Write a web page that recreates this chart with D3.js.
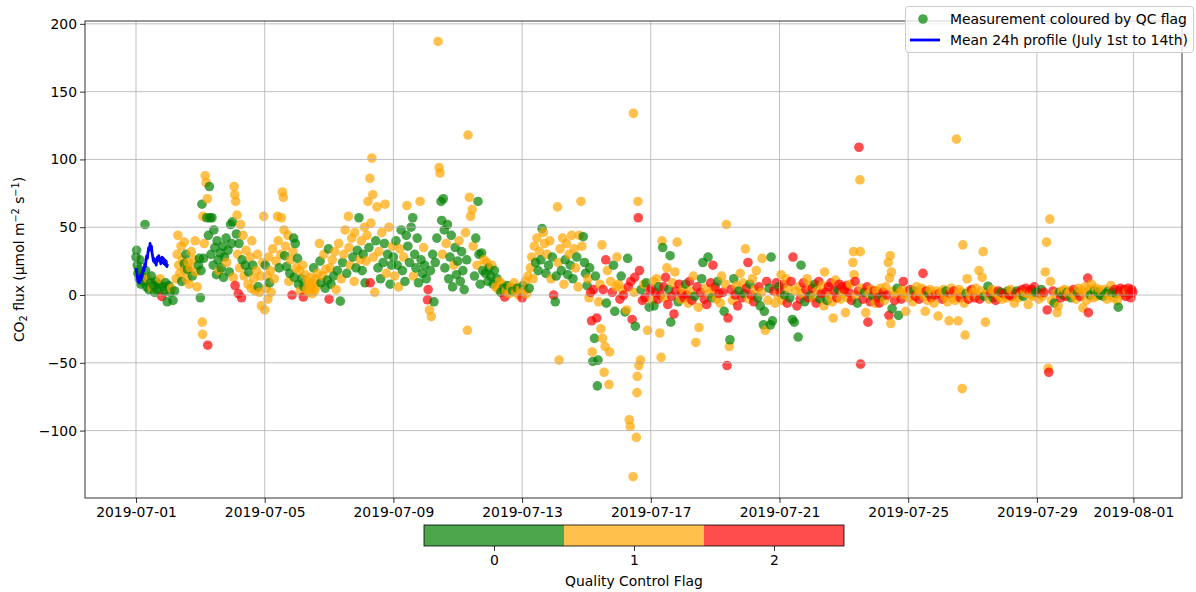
<!DOCTYPE html>
<html>
<head>
<meta charset="utf-8">
<script src="https://cdn.jsdelivr.net/npm/d3@7"></script>
<style>
	body { margin: 0; background: #fff; }
	svg { font-family: "DejaVu Sans", sans-serif; }
</style>
</head>
<body>
<svg id="chart" width="1196" height="592"></svg>
<script>
// [days since 2019-07-01 00:00, CO2 flux, QC flag]
var fluxWeek1 = [
	[0.0,28,0],[0.02,33,0],[0.04,22,0],[0.06,16,0],[0.08,19,0],[0.1,12,0],[0.12,26,0],[0.15,8,0],[0.18,14,0],[0.22,10,0],[0.28,52,0],[0.3,18,0],[0.33,6,0],[0.36,12,1],[0.4,4,0],[0.44,9,0],[0.48,14,0],[0.5,5,1],[0.55,7,0],[0.58,2,0],[0.62,10,0],[0.66,4,0],[0.7,8,0],[0.75,12,1],[0.8,-1,2],[0.84,6,0],[0.88,3,0],[0.92,9,0],[0.97,-5,0],
	[1.02,7,0],[1.06,2,0],[1.1,5,1],[1.15,-4,0],[1.2,3,0],[1.25,12,1],[1.28,30,1],[1.3,44,1],[1.33,22,1],[1.36,16,1],[1.4,36,1],[1.42,10,0],[1.45,26,1],[1.5,39,1],[1.5,23,0],[1.52,18,1],[1.55,30,0],[1.58,12,1],[1.6,19,0],[1.62,24,1],[1.65,8,1],[1.68,20,1],[1.72,32,1],[1.75,14,0],[1.8,26,1],[1.84,40,1],[1.86,17,1],[1.9,6,1],[1.94,22,0],[1.97,27,0],
	[2.0,-2,0],[2.02,18,0],[2.05,67,0],[2.06,-20,1],[2.07,-29,1],[2.08,58,1],[2.1,27,0],[2.12,38,1],[2.15,88,1],[2.18,83,1],[2.2,57,0],[2.22,71,1],[2.23,-37,2],[2.25,44,0],[2.28,80,0],[2.3,57,0],[2.33,30,0],[2.36,57,0],[2.4,22,0],[2.42,48,0],[2.45,35,0],[2.5,15,0],[2.52,40,0],[2.55,26,0],[2.58,18,1],[2.62,31,0],[2.65,20,0],[2.7,36,0],[2.72,13,0],[2.75,28,0],[2.8,42,0],[2.82,24,1],[2.86,33,0],[2.9,17,0],[2.94,52,0],[2.97,38,0],
	[3.0,54,0],[3.02,13,1],[3.05,80,1],[3.07,74,1],[3.08,7,2],[3.1,69,1],[3.12,45,0],[3.14,59,1],[3.16,30,1],[3.18,1,2],[3.2,38,0],[3.22,20,1],[3.25,52,1],[3.28,-2,2],[3.3,26,0],[3.33,44,1],[3.36,14,1],[3.4,22,0],[3.42,33,1],[3.48,8,1],[3.5,17,0],[3.55,28,1],[3.58,5,1],[3.6,40,1],[3.63,22,0],[3.66,12,1],[3.7,3,1],[3.74,18,1],[3.78,30,1],[3.8,6,0],[3.84,2,1],[3.88,14,1],[3.9,-8,1],[3.94,24,1],[3.97,58,1],
	[4.0,-11,1],[4.02,22,0],[4.05,5,1],[4.08,14,1],[4.1,-3,1],[4.12,28,1],[4.15,9,0],[4.18,18,1],[4.2,2,1],[4.25,34,1],[4.3,12,1],[4.35,25,1],[4.4,58,1],[4.42,40,1],[4.45,20,0],[4.5,30,1],[4.52,57,1],[4.55,76,1],[4.58,72,1],[4.6,48,1],[4.62,29,0],[4.65,36,1],[4.68,21,0],[4.72,44,1],[4.75,10,1],[4.78,16,0],[4.8,26,1],[4.85,0,2],[4.88,32,1],[4.9,42,0],[4.92,13,0],[4.95,38,0],[4.98,20,1],
	[5.02,27,0],[5.05,8,0],[5.08,18,1],[5.1,3,1],[5.15,12,0],[5.18,22,1],[5.2,-1.5,2],[5.22,6,0],[5.25,15,1],[5.3,4,1],[5.33,10,1],[5.36,2,1],[5.4,8,1],[5.42,13,1],[5.45,5,1],[5.48,1,1],[5.5,9,1],[5.52,20,0],[5.55,3,1],[5.58,12,1],[5.6,6,1],[5.65,16,1],[5.7,38,1],[5.72,25,0],[5.75,9,0],[5.8,14,1],[5.84,30,1],[5.88,5,0],[5.9,19,1],[5.95,11,0],[5.98,34,0],
	[6.0,-3,2],[6.03,20,1],[6.06,8,0],[6.1,26,1],[6.14,14,0],[6.18,32,1],[6.22,4,1],[6.26,18,0],[6.3,38,1],[6.35,-4.5,0],[6.38,12,1],[6.42,24,0],[6.46,30,1],[6.5,48,1],[6.55,16,0],[6.6,58,1],[6.62,35,1],[6.65,22,1],[6.7,42,1],[6.74,28,0],[6.78,10,1],[6.8,46,1],[6.84,20,0],[6.88,33,0],[6.93,57,0],[6.96,26,1]
];
var fluxWeek2 = [
	[7.0,40,1],[7.03,18,0],[7.06,30,0],[7.1,50,1],[7.12,9,0],[7.15,25,1],[7.18,44,1],[7.21,69,1],[7.24,35,0],[7.27,86,1],[7.28,9,2],[7.3,53,1],[7.33,101,1],[7.36,74,1],[7.38,28,1],[7.42,2,1],[7.45,40,0],[7.49,65,1],[7.52,20,0],[7.55,32,1],[7.6,12,0],[7.64,46,1],[7.68,24,0],[7.72,38,0],[7.74,67,1],[7.78,16,1],[7.82,30,0],[7.86,50,1],[7.9,8,0],[7.94,22,0],[7.97,36,1],
	[8.0,28,0],[8.04,14,1],[8.08,40,0],[8.12,22,0],[8.16,6,1],[8.2,34,1],[8.24,48,0],[8.28,18,0],[8.32,28,1],[8.36,10,0],[8.4,44,0],[8.42,66,1],[8.45,36,0],[8.5,24,0],[8.55,50,0],[8.6,57,0],[8.62,14,1],[8.66,30,0],[8.7,20,0],[8.74,42,0],[8.78,9,0],[8.83,69,1],[8.86,26,0],[8.9,16,0],[8.94,35,1],[8.97,22,0],
	[9.02,12,0],[9.06,-3.5,2],[9.08,4,2],[9.12,-11,1],[9.15,18,0],[9.18,-16,1],[9.22,30,0],[9.26,-5,0],[9.3,24,0],[9.35,42,0],[9.39,187,1],[9.42,94,1],[9.45,90,1],[9.48,69,0],[9.5,55,0],[9.52,30,1],[9.55,71,0],[9.58,48,0],[9.6,20,0],[9.64,38,1],[9.68,52,0],[9.72,12,0],[9.76,28,0],[9.8,44,0],[9.84,6,0],[9.88,22,1],[9.92,35,0],[9.96,15,0],
	[10.0,25,0],[10.04,40,1],[10.08,10,0],[10.12,32,0],[10.16,18,0],[10.2,4,0],[10.24,46,1],[10.28,26,0],[10.3,-26,1],[10.32,118,1],[10.36,72,1],[10.4,58,1],[10.45,63,1],[10.48,36,1],[10.52,14,0],[10.56,42,0],[10.6,22,1],[10.63,69,0],[10.66,30,0],[10.7,8,0],[10.74,31,0],[10.78,18,0],[10.82,26,1],[10.86,16,0],[10.9,24,1],[10.94,10,0],[10.97,20,0],
	[11.02,14,0],[11.06,22,1],[11.1,8,0],[11.14,18,0],[11.18,6,1],[11.22,12,0],[11.26,4,1],[11.3,10,1],[11.34,2,0],[11.38,8,1],[11.42,5,0],[11.46,-1.5,2],[11.5,3,1],[11.55,7,0],[11.6,1,1],[11.65,6,1],[11.7,3,0],[11.75,9,1],[11.8,2,1],[11.85,5,0],[11.9,0,1],[11.95,4,1],
	[12.0,-2,2],[12.03,7,0],[12.06,3,1],[12.1,10,1],[12.14,1,1],[12.18,14,1],[12.22,5,0],[12.26,20,1],[12.3,28,1],[12.34,12,1],[12.38,36,1],[12.42,24,0],[12.46,42,1],[12.5,18,0],[12.54,32,1],[12.58,26,0],[12.62,49,0],[12.66,46,1],[12.7,38,1],[12.74,16,0],[12.78,30,1],[12.82,22,0],[12.86,40,1],[12.9,12,1],[12.94,28,0],[12.98,0,2],
	[13.03,-5,0],[13.06,14,0],[13.1,65,1],[13.12,24,1],[13.15,-48,1],[13.18,34,1],[13.22,18,0],[13.26,42,1],[13.3,8,1],[13.34,26,0],[13.38,38,1],[13.42,15,0],[13.46,30,1],[13.5,22,0],[13.54,44,1],[13.58,12,0],[13.62,34,1],[13.66,20,1],[13.7,28,0],[13.74,6,1],[13.78,44,1],[13.83,69,1],[13.86,36,1],[13.9,43,0],[13.94,24,0],[13.97,16,0]
];
var fluxWeek3 = [
	[14.02,7,0],[14.05,12,1],[14.08,-2,1],[14.1,20,0],[14.13,2,2],[14.16,-19,2],[14.18,-42,1],[14.2,-49,0],[14.22,4,2],[14.25,-32,0],[14.28,14,0],[14.32,-17,2],[14.34,-67,0],[14.36,-48,0],[14.38,-5,1],[14.42,8,1],[14.45,-25,1],[14.48,37,1],[14.5,-32,1],[14.52,4,2],[14.55,-57,1],[14.58,-38,1],[14.6,26,2],[14.62,-6,0],[14.65,18,1],[14.7,-66,1],[14.72,-42,1],[14.75,10,1],[14.8,2,2],[14.84,22,0],[14.88,-12,0],[14.92,6,1],[14.95,28,1],
	[15.0,8,1],[15.04,-3,2],[15.08,14,0],[15.12,4,1],[15.15,0,2],[15.2,-12.5,0],[15.25,-11,1],[15.28,27,0],[15.3,6,2],[15.33,-92,1],[15.36,-97,1],[15.38,10,2],[15.42,-18,2],[15.45,-134,1],[15.46,134,1],[15.48,2,1],[15.5,13,2],[15.52,-23,0],[15.55,-105,1],[15.57,-72,1],[15.58,-60,1],[15.6,69,1],[15.61,57,2],[15.63,-52,1],[15.65,18,2],[15.68,-48,1],[15.7,4,0],[15.74,-4,2],[15.78,8,1],[15.82,-2,2],[15.86,9,0],[15.9,-26,1],[15.95,-9,0],[15.98,3,2],
	[16.02,5,2],[16.05,-4,1],[16.08,10,1],[16.1,-8,0],[16.14,2,2],[16.18,12,1],[16.22,-3,2],[16.25,6,0],[16.28,-28,1],[16.3,0,2],[16.32,-46,1],[16.35,40,1],[16.37,35,0],[16.4,6,2],[16.43,-2,1],[16.46,13,2],[16.5,20,1],[16.53,-7,2],[16.56,4,0],[16.6,29,0],[16.62,-20,0],[16.65,-1,2],[16.68,9,1],[16.72,-14,2],[16.75,17,1],[16.78,3,2],[16.82,39,1],[16.85,-5,0],[16.88,8,2],[16.92,-3,1],[16.96,1,2],
	[17.0,4,1],[17.04,-2,2],[17.08,8,0],[17.12,0,2],[17.16,-6,1],[17.2,10,2],[17.24,3,1],[17.28,-4,2],[17.32,14,1],[17.36,-1,0],[17.4,-35,1],[17.44,6,2],[17.48,-9,1],[17.5,-24,1],[17.54,2,2],[17.58,12,0],[17.62,24,0],[17.66,-3,2],[17.7,5,1],[17.74,-7,2],[17.78,28,0],[17.82,1,1],[17.86,9,2],[17.9,-2,0],[17.93,22,2],[17.96,4,1],
	[18.0,6,2],[18.04,-3,1],[18.08,10,0],[18.12,1,2],[18.16,-6,1],[18.2,14,1],[18.24,2,2],[18.28,-12,0],[18.32,8,1],[18.35,52,1],[18.37,-52,2],[18.4,-17,2],[18.44,-38,1],[18.46,-33,0],[18.5,4,2],[18.54,-4,1],[18.58,12,0],[18.62,0,2],[18.66,7,1],[18.7,-8,2],[18.74,3,0],[18.78,16,1],[18.82,-2,2],[18.86,9,1],[18.9,1,0],[18.94,34,1],[18.97,5,2],
	[19.02,24,2],[19.05,-3,1],[19.08,8,0],[19.12,0,2],[19.16,12,1],[19.2,-5,2],[19.24,4,1],[19.28,18,1],[19.32,-2,0],[19.36,6,2],[19.4,-8,0],[19.44,2,1],[19.46,27,1],[19.5,-22,0],[19.53,-12,0],[19.56,-26,1],[19.6,10,2],[19.64,-4,1],[19.68,5,0],[19.72,-22,0],[19.74,28,0],[19.78,-19,0],[19.82,3,2],[19.86,-6,1],[19.9,9,2],[19.94,0,1],[19.98,6,0],
	[20.02,2,2],[20.05,15,1],[20.08,-4,1],[20.12,8,2],[20.16,0,0],[20.2,12,1],[20.24,-6,2],[20.28,5,1],[20.32,-2,0],[20.36,10,2],[20.4,-18,0],[20.42,28,2],[20.46,-20,0],[20.5,3,1],[20.54,-8,2],[20.58,-31,0],[20.6,6,1],[20.64,-3,2],[20.67,22,0],[20.7,1,1],[20.74,9,2],[20.78,-5,0],[20.82,4,2],[20.86,12,1],[20.9,-2,2],[20.94,7,1],[20.97,0,0]
];
var fluxWeek4 = [
	[21.02,5,2],[21.06,-2,1],[21.1,8,0],[21.14,-6,2],[21.18,3,1],[21.22,10,2],[21.26,-3,0],[21.3,1,2],[21.34,7,1],[21.38,-8,1],[21.4,17,1],[21.44,2,2],[21.48,-4,0],[21.52,6,2],[21.56,-1,1],[21.6,9,2],[21.64,-5,1],[21.67,-17,1],[21.7,3,2],[21.74,11,1],[21.78,-2,2],[21.82,4,0],[21.86,8,2],[21.9,-3,1],[21.94,6,2],[21.97,1,1],
	[22.02,4,2],[22.05,-13,1],[22.08,7,2],[22.12,-2,1],[22.16,2,2],[22.2,8,1],[22.24,-4,2],[22.28,24,1],[22.3,32,1],[22.32,15,1],[22.35,10,2],[22.38,0,1],[22.42,-6,0],[22.45,3,2],[22.47,109,2],[22.5,85,1],[22.51,32,1],[22.52,-51,2],[22.56,5,1],[22.6,-3,2],[22.64,2,0],[22.68,-13,1],[22.72,6,2],[22.75,-20,2],[22.78,1,1],[22.82,-5,2],[22.86,4,1],[22.9,-1,0],[22.94,3,2],[22.97,-6,1],
	[23.02,3,1],[23.06,-2,2],[23.1,-6,2],[23.14,5,1],[23.18,-1,0],[23.22,2,2],[23.26,-4,1],[23.3,6,1],[23.34,0,2],[23.38,24,1],[23.4,-15,2],[23.42,12.5,1],[23.44,29,1],[23.46,-21,1],[23.48,17,1],[23.5,-10,0],[23.54,3,1],[23.58,-4,2],[23.62,1,1],[23.66,5,0],[23.7,-15,0],[23.74,2,1],[23.78,-3,2],[23.82,4,1],[23.85,10,2],[23.88,0,1],[23.93,-12,1],[23.97,3,1],
	[24.02,-2,1],[24.06,4,2],[24.1,1,1],[24.14,-5,1],[24.18,3,0],[24.22,-1,2],[24.26,6,1],[24.3,0,1],[24.34,-3,2],[24.38,2,1],[24.42,5,1],[24.46,16,2],[24.5,-1,1],[24.53,-12,1],[24.56,3,2],[24.6,-4,1],[24.64,1,0],[24.68,4,1],[24.72,-2,2],[24.76,2,1],[24.8,-6,1],[24.84,0,2],[24.88,3,1],[24.93,-15.5,1],[24.97,1,2],
	[25.02,2,1],[25.06,-3,2],[25.1,4,1],[25.14,-1,1],[25.18,3,0],[25.22,-5,1],[25.27,-19,1],[25.3,1,2],[25.34,5,1],[25.38,-2,1],[25.42,3,2],[25.46,-4,1],[25.5,115,1],[25.53,0,1],[25.55,-19,1],[25.58,4,1],[25.62,-2,2],[25.66,2,1],[25.68,-69,1],[25.7,37,1],[25.74,-6,1],[25.77,-29.5,1],[25.8,1,0],[25.83,12,1],[25.87,-3,2],[25.9,3,1],[25.94,-1,1],[25.97,4,2],
	[26.02,2,1],[26.06,-2,2],[26.1,5,1],[26.14,0,1],[26.2,18,1],[26.22,-3,2],[26.26,3,1],[26.3,13,1],[26.33,32,1],[26.36,-1,0],[26.4,-20,1],[26.44,2,1],[26.48,6.5,0],[26.52,-3,1],[26.56,1,2],[26.6,4,1],[26.64,-2,0],[26.68,2,1],[26.72,-4,2],[26.76,1,1],[26.8,3,2],[26.84,-1,1],[26.88,2,0],[26.92,-3,1],[26.96,1,2],
	[27.02,1,2],[27.06,-2,1],[27.1,3,0],[27.14,0,2],[27.18,4,1],[27.22,-1,2],[27.26,2,1],[27.3,-6,1],[27.34,1,2],[27.38,3,0],[27.42,-2,1],[27.46,2,2],[27.5,0,1],[27.54,4,2],[27.58,-1,0],[27.62,2,1],[27.66,5,2],[27.7,1,1],[27.73,-7,1],[27.76,3,2],[27.8,0,1],[27.84,4,2],[27.88,-1,1],[27.92,6,2],[27.96,2,0]
];
var fluxWeek5 = [
	[28.02,2,0],[28.06,-3,1],[28.1,1,2],[28.14,4,0],[28.18,-1,1],[28.22,2,2],[28.26,17,1],[28.3,39,1],[28.32,-11,2],[28.35,-54,1],[28.37,-57,2],[28.4,56,1],[28.42,10,1],[28.46,-4,1],[28.5,3,2],[28.54,-6,0],[28.58,1,1],[28.63,-13,1],[28.66,-8,1],[28.7,2,0],[28.74,-2,2],[28.78,3,1],[28.82,0,0],[28.86,4,1],[28.9,-1,2],[28.94,2,0],[28.97,1,1],
	[29.02,3,1],[29.06,-2,0],[29.1,1,1],[29.14,4,2],[29.18,0,1],[29.22,-3,1],[29.26,2,0],[29.3,5,1],[29.34,-1,2],[29.38,3,1],[29.43,-9.5,1],[29.46,2,1],[29.5,6,1],[29.54,-4,1],[29.58,12.5,2],[29.6,-13,2],[29.63,4,1],[29.66,0,0],[29.7,8,1],[29.74,-2,1],[29.78,3,0],[29.82,5,1],[29.86,-1,1],[29.9,2,0],[29.94,4,1],[29.97,0,0],
	[30.02,2,1],[30.06,-1,0],[30.1,4,1],[30.14,1,0],[30.18,-3,1],[30.22,3,0],[30.26,0,1],[30.3,7,1],[30.34,2,0],[30.38,-2,1],[30.42,4,2],[30.46,1,0],[30.5,-4,1],[30.53,-9,0],[30.56,3,2],[30.6,5,2],[30.64,0,1],[30.68,2,2],[30.72,4,2],[30.76,-1,2],[30.8,3,1],[30.84,5,2],[30.88,1,2],[30.92,-2,2],[30.95,4,2],[30.98,2,2]
];

// mean 24h profile, one value per half hour, plotted over July 1st
var profileMean = [20,17,13,10,12,9,14,11,15,13,17,20,18,23,21,26,29,27,32,35,33,38,34,36,31,28,25,27,24,26,22,25,28,26,29,25,27,23,26,28,24,27,23,26,22,25,21,23];

var xTickDays = [0, 4, 8, 12, 16, 20, 24, 28, 31];
var yTickValues = [-100, -50, 0, 50, 100, 150, 200];
var qcFlags = [0, 1, 2];

var flagColors = ['green', 'orange', 'red'];
var DAY = 864e5;
var START = Date.UTC(2019, 6, 1);
var plot = { left: 85, right: 1182, top: 21, bottom: 498 };

function toDate (d) {
	return new Date(START + d * DAY);
}

var measurements = fluxWeek1.concat(fluxWeek2, fluxWeek3, fluxWeek4, fluxWeek5);

var svg = d3.select('#chart');

var x = d3.scaleUtc()
	.domain([toDate(-1.585), toDate(32.51)])
	.range([plot.left, plot.right]);

var y = d3.scaleLinear()
	.domain([-149.7, 202.1])
	.range([plot.bottom, plot.top]);

svg.append('defs').append('clipPath')
	.attr('id', 'plot-clip')
	.append('rect')
	.attr('x', plot.left)
	.attr('y', plot.top)
	.attr('width', plot.right - plot.left)
	.attr('height', plot.bottom - plot.top);

// scatter of all measurements, coloured by QC flag
svg.append('g')
	.attr('clip-path', 'url(#plot-clip)')
	.selectAll('circle')
	.data(measurements)
	.join('circle')
	.attr('cx', function (d) { return x(toDate(d[0])); })
	.attr('cy', function (d) { return y(d[1]); })
	.attr('r', 4.8)
	.attr('fill', function (d) { return flagColors[d[2]]; })
	.attr('fill-opacity', 0.7);

// grid sits above the markers, below the profile line
var grid = svg.append('g')
	.attr('stroke', '#b0b0b0')
	.attr('stroke-width', 0.8);

grid.selectAll('line.gx')
	.data(xTickDays)
	.join('line')
	.attr('class', 'gx')
	.attr('x1', function (d) { return x(toDate(d)); })
	.attr('x2', function (d) { return x(toDate(d)); })
	.attr('y1', plot.top)
	.attr('y2', plot.bottom);

grid.selectAll('line.gy')
	.data(yTickValues)
	.join('line')
	.attr('class', 'gy')
	.attr('x1', plot.left)
	.attr('x2', plot.right)
	.attr('y1', function (d) { return y(d); })
	.attr('y2', function (d) { return y(d); });

var profileLine = d3.line()
	.x(function (d, i) { return x(toDate(i / 48)); })
	.y(function (d) { return y(d); });

svg.append('path')
	.datum(profileMean)
	.attr('d', profileLine)
	.attr('fill', 'none')
	.attr('stroke', 'blue')
	.attr('stroke-width', 2.8)
	.attr('stroke-linejoin', 'round');

// axes
var xAxis = d3.axisBottom(x)
	.tickValues(xTickDays.map(toDate))
	.tickFormat(d3.utcFormat('%Y-%m-%d'))
	.tickSize(5)
	.tickPadding(4);

var yAxis = d3.axisLeft(y)
	.tickValues(yTickValues)
	.tickSize(5)
	.tickPadding(3);

var gx = svg.append('g')
	.attr('transform', 'translate(0,' + plot.bottom + ')')
	.call(xAxis);

var gy = svg.append('g')
	.attr('transform', 'translate(' + plot.left + ',0)')
	.call(yAxis);

[gx, gy].forEach(function (g) {
	g.select('.domain').remove();
	g.selectAll('text')
		.attr('font-family', '"DejaVu Sans", sans-serif')
		.attr('font-size', 13.9)
		.attr('fill', '#000');
	g.selectAll('line').attr('stroke', '#000').attr('stroke-width', 0.8);
});

svg.append('rect')
	.attr('x', plot.left)
	.attr('y', plot.top)
	.attr('width', plot.right - plot.left)
	.attr('height', plot.bottom - plot.top)
	.attr('fill', 'none')
	.attr('stroke', '#000')
	.attr('stroke-width', 0.8);

// y label with sub/superscripts
var ylab = svg.append('text')
	.attr('transform', 'translate(24,' + ((plot.top + plot.bottom) / 2) + ') rotate(-90)')
	.attr('text-anchor', 'middle')
	.attr('font-size', 13.9);

ylab.append('tspan').text('CO');
ylab.append('tspan').attr('font-size', 9.7).attr('dy', 3).text('2');
ylab.append('tspan').attr('dy', -3).text(' flux (µmol m');
ylab.append('tspan').attr('font-size', 9.7).attr('dy', -5).text('−2');
ylab.append('tspan').attr('dy', 5).text(' s');
ylab.append('tspan').attr('font-size', 9.7).attr('dy', -5).text('−1');
ylab.append('tspan').attr('dy', 5).text(')');

// colour bar for the QC flags
var cb = { left: 424, right: 844, top: 525, bottom: 546 };
var cbScale = d3.scaleLinear()
	.domain([-0.5, 2.5])
	.range([cb.left, cb.right]);

var cbg = svg.append('g');

cbg.selectAll('rect.seg')
	.data(qcFlags)
	.join('rect')
	.attr('class', 'seg')
	.attr('x', function (d) { return cbScale(d - 0.5); })
	.attr('y', cb.top)
	.attr('width', function (d) { return cbScale(d + 0.5) - cbScale(d - 0.5); })
	.attr('height', cb.bottom - cb.top)
	.attr('fill', function (d) { return flagColors[d]; })
	.attr('fill-opacity', 0.7);

cbg.append('rect')
	.attr('x', cb.left)
	.attr('y', cb.top)
	.attr('width', cb.right - cb.left)
	.attr('height', cb.bottom - cb.top)
	.attr('fill', 'none')
	.attr('stroke', '#000')
	.attr('stroke-width', 0.8);

var cbAxis = d3.axisBottom(cbScale)
	.tickValues(qcFlags)
	.tickFormat(d3.format('d'))
	.tickSize(5)
	.tickPadding(4);

var gcb = cbg.append('g')
	.attr('transform', 'translate(0,' + cb.bottom + ')')
	.call(cbAxis);

gcb.select('.domain').remove();
gcb.selectAll('text')
	.attr('font-family', '"DejaVu Sans", sans-serif')
	.attr('font-size', 13.9)
	.attr('fill', '#000');
gcb.selectAll('line').attr('stroke', '#000').attr('stroke-width', 0.8);

cbg.append('text')
	.attr('x', cbScale(1))
	.attr('y', 586)
	.attr('text-anchor', 'middle')
	.attr('font-size', 13.9)
	.text('Quality Control Flag');

// legend
var legend = svg.append('g');

legend.append('rect')
	.attr('x', 905.5)
	.attr('y', 6.5)
	.attr('width', 288)
	.attr('height', 46)
	.attr('rx', 3)
	.attr('fill', '#fff')
	.attr('fill-opacity', 0.8)
	.attr('stroke', '#ccc')
	.attr('stroke-width', 1);

legend.append('circle')
	.attr('cx', 923)
	.attr('cy', 19)
	.attr('r', 4.8)
	.attr('fill', flagColors[0])
	.attr('fill-opacity', 0.7);

legend.append('text')
	.attr('x', 950)
	.attr('y', 24)
	.attr('font-size', 13.9)
	.text('Measurement coloured by QC flag');

legend.append('line')
	.attr('x1', 910)
	.attr('x2', 940)
	.attr('y1', 40)
	.attr('y2', 40)
	.attr('stroke', 'blue')
	.attr('stroke-width', 2.8);

legend.append('text')
	.attr('x', 950)
	.attr('y', 45)
	.attr('font-size', 13.9)
	.text('Mean 24h profile (July 1st to 14th)');
</script>
</body>
</html>
